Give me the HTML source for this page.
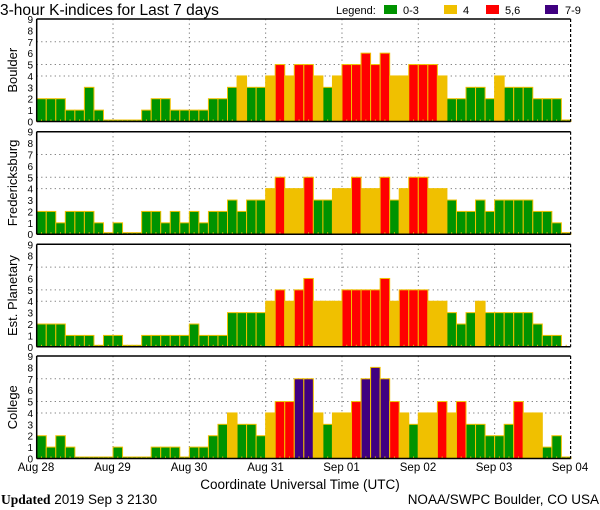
<!DOCTYPE html>
<html><head><meta charset="utf-8"><style>
html,body{margin:0;padding:0;background:#fff;width:600px;height:510px;overflow:hidden}
svg{display:block}
text{font-family:"Liberation Sans",sans-serif;fill:#000}
</style></head><body>
<svg id="s" width="600" height="510" xmlns="http://www.w3.org/2000/svg">
<text x="0" y="15" font-size="15.5">3-hour K-indices for Last 7 days</text>
<text x="336" y="14" font-size="11">Legend:</text>
<rect x="384" y="5" width="13" height="9" fill="#009300"/><text x="403" y="14" font-size="11">0-3</text>
<rect x="444" y="5" width="13" height="9" fill="#f0c000"/><text x="463" y="14" font-size="11">4</text>
<rect x="486" y="5" width="13" height="9" fill="#ff0000"/><text x="505" y="14" font-size="11">5,6</text>
<rect x="545" y="5" width="13" height="9" fill="#400080"/><text x="565" y="14" font-size="11">7-9</text>
<g id="p"></g>
<g font-size="11.5" text-anchor="middle">
<text x="36" y="471">Aug 28</text><text x="112.5" y="471">Aug 29</text><text x="189" y="471">Aug 30</text><text x="265.5" y="471">Aug 31</text>
<text x="341.5" y="471">Sep 01</text><text x="418" y="471">Sep 02</text><text x="494" y="471">Sep 03</text><text x="570" y="471">Sep 04</text>
</g>
<text x="300" y="489" font-size="13.5" text-anchor="middle">Coordinate Universal Time (UTC)</text>
<text x="1" y="504" font-size="13.5"><tspan font-family="Liberation Serif" font-weight="bold">Updated</tspan> 2019 Sep  3 2130</text>
<text x="599" y="504" font-size="13.5" text-anchor="end">NOAA/SWPC Boulder, CO USA</text>
</svg>
<script>
var D=[
["Boulder",19,[2,2,2,1,1,3,1,0, 0,0,0,1,2,2,1,1, 1,1,2,2,3,4,3,3, 4,5,4,5,5,4,3,4, 5,5,6,5,6,4,4,5, 5,5,4,2,2,3,3,2, 4,3,3,3,2,2,2,0]],
["Fredericksburg",131.7,[2,2,1,2,2,2,1,0, 1,0,0,2,2,1,2,1, 2,1,2,2,3,2,3,3, 4,5,4,4,5,3,3,4, 4,5,4,4,5,3,4,5, 5,4,4,3,2,2,3,2, 3,3,3,3,2,2,1,0]],
["Est. Planetary",244.3,[2,2,2,1,1,1,0,1, 1,0,0,1,1,1,1,1, 2,1,1,1,3,3,3,3, 4,5,4,5,6,4,4,4, 5,5,5,5,6,4,5,5, 5,4,4,3,2,3,4,3, 3,3,3,3,2,1,1,-1]],
["College",356,[2,1,2,1,0,0,0,0, 1,0,0,0,1,1,1,0, 1,1,2,3,4,3,3,2, 4,5,5,7,7,4,3,4, 4,5,7,8,7,5,4,3, 4,4,5,4,5,3,3,2, 2,3,5,4,4,1,2,0]]];
var x0=36.7,bw=9.54,H=102.5,u=H/9,s="";
function col(v){return v<=3?"#009300":v==4?"#f0c000":v<=6?"#ff0000":"#400080";}
D.forEach(function(d){
 var t=d[1],b=t+H;
 // grid
 [4,5,7].forEach(function(k){var y=b-k*u;s+='<line x1="'+x0+'" x2="570.6" y1="'+y+'" y2="'+y+'" stroke="#777" stroke-dasharray="1.2,3.3"/>';});
 for(var i=1;i<7;i++){var x=x0+i*8*bw;s+='<line x1="'+x+'" x2="'+x+'" y1="'+t+'" y2="'+b+'" stroke="#777" stroke-dasharray="1.2,3.3"/>';}
 d[2].forEach(function(v,i){
  if(v<0)return;var x=x0+i*bw,h=v==0?1.5:v*u;
  s+='<rect x="'+x+'" y="'+(b-h)+'" width="'+bw+'" height="'+h+'" fill="'+col(v)+'" stroke="#f0c000" stroke-width="1"/>';
 });
 for(var i=0;i<56;i++){var x=x0+i*bw+bw/2;s+='<line x1="'+x+'" x2="'+x+'" y1="'+(b-2)+'" y2="'+b+'" stroke="#f0c000"/>';}
 s+='<line x1="'+x0+'" x2="570.6" y1="'+t+'" y2="'+t+'" stroke="#000" stroke-width="1.5"/>';
 s+='<line x1="'+x0+'" x2="570.6" y1="'+b+'" y2="'+b+'" stroke="#000" stroke-width="1.5"/>';
 s+='<line x1="'+x0+'" x2="'+x0+'" y1="'+t+'" y2="'+b+'" stroke="#000" stroke-width="1.5"/>';
 s+='<line x1="570.6" x2="570.6" y1="'+t+'" y2="'+b+'" stroke="#000" stroke-width="1.2" stroke-dasharray="3,2"/>';
 for(var k=0;k<=9;k++){s+='<text x="33" y="'+(b-k*u+4)+'" font-size="10" text-anchor="end">'+k+'</text>';}
 var cy=t+H/2;
 s+='<text x="17" y="'+cy+'" font-size="13" text-anchor="middle" transform="rotate(-90 17 '+cy+')">'+d[0]+'</text>';
});
document.getElementById("p").innerHTML=s;
</script>
</body></html>
